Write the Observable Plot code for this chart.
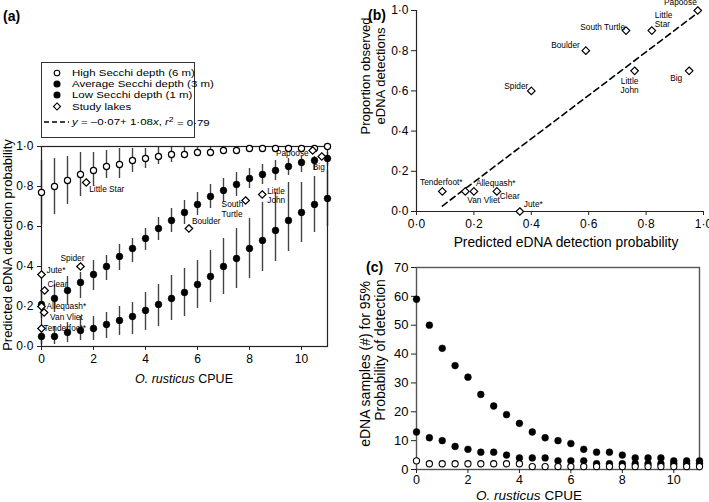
<!DOCTYPE html>
<html><head><meta charset="utf-8">
<script src="https://cdn.jsdelivr.net/npm/d3@7"></script>
<script src="https://cdn.jsdelivr.net/npm/@observablehq/plot@0.6"></script>
<style>
body{margin:0;background:#fff;font-family:"Liberation Sans",Arial,sans-serif;color:#000;}
#wrap{position:relative;width:709px;height:502px;overflow:hidden;background:#fff;}
.abs{position:absolute;white-space:nowrap;line-height:1;}
.ctr{transform:translate(-50%,-50%);}
.rot{transform:translate(-50%,-50%) rotate(-90deg);}
svg{overflow:visible;}
</style></head><body><div id="wrap"></div>
<script>
// ---------- DATA ----------
const cpue = [0,0.5,1,1.5,2,2.5,3,3.5,4,4.5,5,5.5,6,6.5,7,7.5,8,8.5,9,9.5,10,10.5,11];

const highMean = [0.77,0.80,0.83,0.86,0.88,0.90,0.91,0.93,0.94,0.95,0.96,0.96,0.97,0.97,0.98,0.98,0.99,0.99,0.99,0.99,0.99,0.99,1.00];
const highLo   = [0.61,0.66,0.71,0.75,0.80,0.84,0.84,0.87,0.89,0.91,0.92,0.94,0.95,0.96,0.97,0.97,0.98,0.98,0.98,0.98,0.98,0.98,0.99];
const highHi   = [0.93,0.94,0.95,0.97,0.97,0.98,0.99,0.99,0.99,1.00,1.00,1.00,1.00,1.00,1.00,1.00,1.00,1.00,1.00,1.00,1.00,1.00,1.00];

const avgMean = [0.21,0.24,0.28,0.32,0.36,0.40,0.45,0.49,0.54,0.59,0.63,0.67,0.71,0.75,0.78,0.81,0.84,0.86,0.88,0.90,0.92,0.93,0.94];
const avgLo   = [0.14,0.17,0.205,0.24,0.28,0.33,0.38,0.42,0.48,0.53,0.57,0.61,0.655,0.69,0.72,0.75,0.79,0.81,0.83,0.855,0.87,0.88,0.90];
const avgHi   = [0.28,0.31,0.35,0.37,0.43,0.455,0.51,0.54,0.59,0.645,0.69,0.73,0.77,0.81,0.84,0.87,0.89,0.91,0.93,0.94,0.95,0.95,0.97];

const lowMean = [0.05,0.05,0.07,0.08,0.09,0.11,0.13,0.15,0.18,0.21,0.24,0.27,0.31,0.35,0.40,0.44,0.49,0.53,0.58,0.63,0.67,0.71,0.74];
const lowLo   = [0.01,0.01,0.02,0.03,0.03,0.04,0.055,0.06,0.08,0.10,0.13,0.15,0.19,0.22,0.26,0.29,0.34,0.375,0.425,0.475,0.52,0.57,0.60];
const lowHi   = [0.09,0.10,0.12,0.15,0.15,0.17,0.20,0.22,0.27,0.31,0.355,0.39,0.43,0.48,0.54,0.59,0.64,0.72,0.77,0.82,0.82,0.85,0.88];

const lakeNames    = ["Tenderfoot*","Van Vliet","Allequash*","Clear","Jute*","Spider","Boulder","South Turtle","Little John","Little Star","Big","Papoose"];
const lakeCpue     = [0,0.1,0,0.12,0,1.5,5.67,7.85,8.49,1.72,10.78,10.43];
const lakePred     = [0.09,0.17,0.20,0.28,0.36,0.40,0.59,0.73,0.76,0.82,0.95,0.98];
const lakeObserved = [0.10,0.10,0.10,0.10,0.00,0.60,0.80,0.90,0.70,0.90,0.70,1.00];

const fitIntercept = -0.07, fitSlope = 1.08, fitR2 = 0.79;

const samplesLow  = [59,50,42,36,32,26,22,19,16,13,11,10,9,7,6,6,5,4,4,4,3,3,3];
const samplesAvg  = [13,11,10,8,7,6,6,5,4,4,4,3,3,3,2,2,2,2,2,2,2,2,2];
const samplesHigh = [3,2,2,2,2,2,2,2,2,1,1,1,1,1,1,1,1,1,1,1,1,1,1];

const probTicks = [0,0.2,0.4,0.6,0.8,1.0];
const cpueTicks = [0,2,4,6,8,10];
const sampleTicks = [0,10,20,30,40,50,60,70];

// ---------- STYLE (label placement) ----------
const labelStyleA = {
  "Tenderfoot*": {dx:2, dy:0, anchor:"start"},
  "Van Vliet": {dx:6, dy:4.5, anchor:"start"},
  "Allequash*": {dx:5, dy:-0.5, anchor:"start"},
  "Clear": {dx:3, dy:-6, anchor:"start"},
  "Jute*": {dx:5, dy:-4, anchor:"start"},
  "Spider": {dx:-8, dy:-8, anchor:"middle"},
  "Boulder": {dx:3, dy:-7, anchor:"start"},
  "South Turtle": {dx:-24, dy:8.5, anchor:"start", text:"South\nTurtle"},
  "Little John": {dx:5, dy:1, anchor:"start", text:"Little\nJohn"},
  "Little Star": {dx:3, dy:7, anchor:"start"},
  "Big": {dx:-3, dy:11, anchor:"middle"},
  "Papoose": {dx:-4, dy:3, anchor:"end"}
};
const labelStyleB = {
  "Tenderfoot*": {dx:-1, dy:-9, anchor:"middle"},
  "Van Vliet": {dx:2, dy:9, anchor:"start"},
  "Allequash*": {dx:2, dy:-8, anchor:"start"},
  "Clear": {dx:3, dy:5, anchor:"start"},
  "Jute*": {dx:4, dy:-7, anchor:"start"},
  "Spider": {dx:-3, dy:-5, anchor:"end"},
  "Boulder": {dx:-6, dy:-6, anchor:"end"},
  "South Turtle": {dx:-1, dy:-4, anchor:"end"},
  "Little John": {dx:-5, dy:15, anchor:"middle", text:"Little\nJohn"},
  "Little Star": {dx:3, dy:-11, anchor:"start", text:"Little\nStar"},
  "Big": {dx:-7, dy:7, anchor:"end"},
  "Papoose": {dx:-1, dy:-8, anchor:"end"}
};

const FONT = "Liberation Sans, Arial, sans-serif";
const fmt1 = d => d3.format(".1f")(d).replace(".", "\u00b7");
const fmt2 = d => d3.format(".2f")(d).replace(".", "\u00b7");
const INK = "#222";
const BAR = "#444";

const rows = cpue.map((x,i) => ({x,
  high:highMean[i], highLo:highLo[i], highHi:highHi[i],
  avg:avgMean[i], avgLo:avgLo[i], avgHi:avgHi[i],
  low:lowMean[i], lowLo:lowLo[i], lowHi:lowHi[i],
  sLow:samplesLow[i], sAvg:samplesAvg[i], sHigh:samplesHigh[i]}));
const lakes = lakeNames.map((name,i) => ({name, cpue:lakeCpue[i], pred:lakePred[i], obs:lakeObserved[i]}));

function labelMarks(styleMap, xKey, yKey) {
  return lakes.map(l => {
    const s = styleMap[l.name];
    return Plot.text([l], {x:xKey, y:yKey, text: () => s.text ?? l.name,
      dx:s.dx, dy:s.dy, textAnchor:s.anchor, lineAnchor:"middle", lineHeight:1.12,
      fontSize:8.3, fontFamily:FONT, fill:"#000"});
  });
}

const wrap = document.getElementById("wrap");
function place(el, left, top) { el.style.position = "absolute"; el.style.left = left+"px"; el.style.top = top+"px"; wrap.appendChild(el); }
function html(str, cls, left, top, css) {
  const d = document.createElement("div"); d.className = "abs " + cls; d.innerHTML = str;
  d.style.left = left+"px"; d.style.top = top+"px"; if (css) d.style.cssText += css; wrap.appendChild(d); return d;
}
const baseStyle = {fontFamily:FONT, background:"transparent", overflow:"visible", color:"#000"};

// ---------- PANEL A ----------
const plotA = Plot.plot({
  width:360, height:400, marginLeft:41, marginRight:33, marginTop:146, marginBottom:54,
  style:{...baseStyle, fontSize:"12px"},
  x:{domain:[0,11]}, y:{domain:[0,1]},
  marks:[
    Plot.ruleX(rows, {x:"x", y1:"lowLo", y2:"lowHi", stroke:BAR, strokeWidth:1.4}),
    Plot.ruleX(rows, {x:"x", y1:"avgLo", y2:"avgHi", stroke:BAR, strokeWidth:1.4}),
    Plot.ruleX(rows, {x:"x", y1:"highLo", y2:"highHi", stroke:BAR, strokeWidth:1.4}),
    Plot.frame({stroke:INK, strokeWidth:1.2}),
    Plot.axisX({ticks:cpueTicks, tickSize:4, tickPadding:4, fontSize:12, label:null, stroke:INK}),
    Plot.axisY({ticks:probTicks, tickFormat:fmt1, tickSize:4, tickPadding:4, fontSize:12, label:null, stroke:INK}),
    Plot.dot(rows, {x:"x", y:"low", r:3.4, fill:"#000", stroke:"#000", strokeWidth:0.5}),
    Plot.dot(rows, {x:"x", y:"avg", r:3.4, fill:"#000", stroke:"#000", strokeWidth:0.5}),
    Plot.dot(rows, {x:"x", y:"high", r:3.1, fill:"#fff", stroke:"#000", strokeWidth:1.2}),
    Plot.dot(lakes, {x:"cpue", y:"pred", symbol:"diamond2", r:3.4, fill:"#fff", stroke:"#000", strokeWidth:1.2}),
    ...labelMarks(labelStyleA, "cpue", "pred")
  ]
});
place(plotA, 0, 0);

// legend for panel A
(function(){
  const box = document.createElement("div");
  box.style.cssText = "position:absolute;left:41px;top:62px;width:152px;height:74px;border:1px solid #333;background:#fff;";
  wrap.appendChild(box);
  const svg = d3.select(box).append("svg").attr("width",152).attr("height",74)
    .style("font-family", FONT).style("font-size", "9.8px");
  const entries = [
    {t:"High Secchi depth (6 m)", fill:"#fff"},
    {t:"Average Secchi depth (3 m)", fill:"#000"},
    {t:"Low Secchi depth (1 m)", fill:"#000"},
    {t:"Study lakes", fill:"#fff", diamond:true}
  ];
  const ys = [10,21,32,43.5];
  entries.forEach((e,i) => {
    if (e.diamond) {
      svg.append("path").attr("d", d3.symbol(d3.symbolDiamond2, 32)()).attr("transform",`translate(15,${ys[i]})`)
        .attr("fill","#fff").attr("stroke","#000").attr("stroke-width",1.1);
    } else {
      svg.append("circle").attr("cx",15).attr("cy",ys[i]).attr("r",e.fill==="#000"?3:2.8)
        .attr("fill",e.fill).attr("stroke","#000").attr("stroke-width",1.1);
    }
    svg.append("text").attr("transform",`translate(30,${ys[i]}) scale(1.17,1)`).attr("dy","0.35em").text(e.t);
  });
  svg.append("line").attr("x1",2).attr("x2",27).attr("y1",59).attr("y2",59)
    .attr("stroke","#000").attr("stroke-width",1.5).attr("stroke-dasharray","5,3");
  const t = svg.append("text").attr("transform","translate(30,59) scale(1.17,1)").attr("dy","0.35em");
  t.append("tspan").attr("font-style","italic").text("y");
  t.append("tspan").text(" = \u2013" + fmt2(-fitIntercept) + "+ " + fmt2(fitSlope));
  t.append("tspan").attr("font-style","italic").text("x");
  t.append("tspan").text(", ");
  t.append("tspan").attr("font-style","italic").text("r");
  t.append("tspan").attr("dy","-0.45em").style("font-size","7.5px").text("2");
  t.append("tspan").attr("dy","0.45em").text(" = " + fmt2(fitR2));
})();

// ---------- PANEL B ----------
const xMin = d3.min(lakePred), xMax = d3.max(lakePred);
const fitLine = [xMin, xMax].map(x => ({x, y: fitIntercept + fitSlope * x}));
const plotB = Plot.plot({
  width:349, height:250, marginLeft:56, marginRight:6, marginTop:10, marginBottom:39,
  style:{...baseStyle, fontSize:"12px"},
  x:{domain:[0,1]}, y:{domain:[0,1]},
  marks:[
    Plot.ruleX([0], {stroke:INK, strokeWidth:1.2}),
    Plot.ruleY([0], {stroke:INK, strokeWidth:1.2}),
    Plot.axisX({ticks:probTicks, tickFormat:fmt1, tickSize:4, tickPadding:4, fontSize:12, label:null, stroke:INK}),
    Plot.axisY({ticks:probTicks, tickFormat:fmt1, tickSize:5, tickPadding:3, fontSize:12, label:null, stroke:INK}),
    Plot.line(fitLine, {x:"x", y:"y", stroke:"#000", strokeWidth:1.6, strokeDasharray:"6,4"}),
    Plot.dot(lakes, {x:"pred", y:"obs", symbol:"diamond2", r:3.4, fill:"#fff", stroke:"#000", strokeWidth:1.2}),
    ...labelMarks(labelStyleB, "pred", "obs")
  ]
});
place(plotB, 360, 0);

// ---------- PANEL C ----------
const plotC = Plot.plot({
  width:349, height:252, marginLeft:56, marginRight:10, marginTop:17, marginBottom:33,
  style:{...baseStyle, fontSize:"13px"},
  x:{domain:[0,11]}, y:{domain:[0,70]},
  marks:[
    Plot.frame({stroke:"#555", strokeWidth:1.4}),
    Plot.axisX({ticks:cpueTicks, tickSize:4, tickPadding:2, fontSize:12.5, label:null, stroke:INK}),
    Plot.axisY({ticks:sampleTicks, tickSize:5, tickPadding:3, fontSize:13, label:null, stroke:INK}),
    Plot.dot(rows, {x:"x", y:"sLow", r:3.4, fill:"#000", stroke:"#000", strokeWidth:0.5}),
    Plot.dot(rows, {x:"x", y:"sAvg", r:3.4, fill:"#000", stroke:"#000", strokeWidth:0.5}),
    Plot.dot(rows, {x:"x", y:"sHigh", r:3.1, fill:"#fff", stroke:"#000", strokeWidth:1.1})
  ]
});
place(plotC, 360, 250);

// ---------- TITLES ----------
html("(a)", "", 3, 9, "font-weight:bold;font-size:14px;");
html("(b)", "", 368, 8, "font-weight:bold;font-size:14px;");
html("(c)", "", 366, 260, "font-weight:bold;font-size:14px;");
html("Predicted eDNA detection probability", "rot", 7, 245, "font-size:13px;");
html("<i>O. rusticus</i> CPUE", "ctr", 184, 379, "font-size:12.5px;");
html("Predicted eDNA detection probability", "ctr", 566, 243, "font-size:13.8px;");
html("Proportion observed", "rot", 365, 76, "font-size:13px;");
html("eDNA detections", "rot", 380, 76, "font-size:13px;");
html("eDNA samples (#) for 95%", "rot", 365, 364, "font-size:14px;");
html("Probability of detection", "rot", 380, 350, "font-size:14px;");
html("<i>O. rusticus</i> CPUE", "ctr", 529, 496, "font-size:13.5px;");
</script>
</body></html>
